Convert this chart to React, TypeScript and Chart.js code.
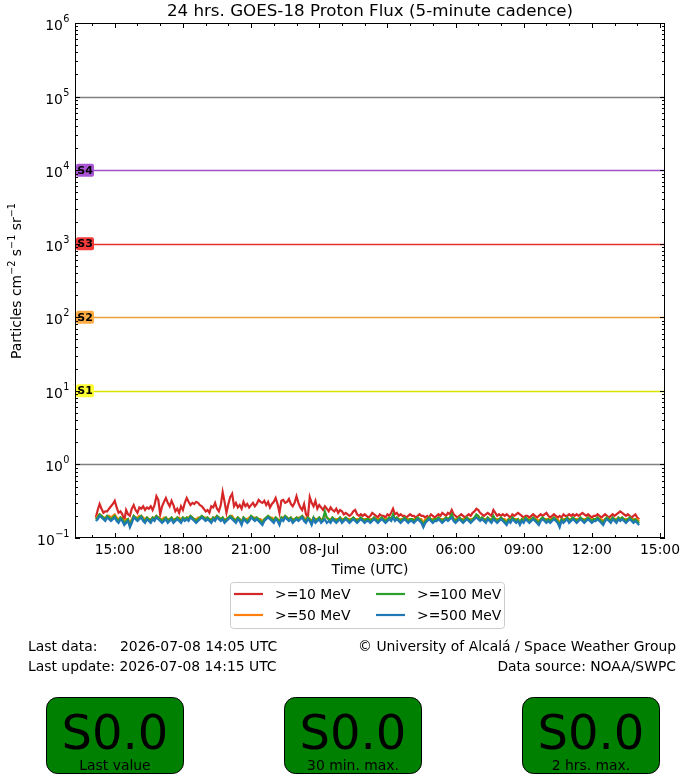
import { useEffect, useRef } from "react";
import { Chart, registerables, Plugin } from "chart.js";

Chart.register(...registerables);

const FONT = "'DejaVu Sans', sans-serif";

// time axis in hours counted from 07-Jul 00:00 UTC
const START_HOUR = 14 + 10 / 60; // first sample 14:10
const STEP_HOURS = 5 / 60; // 5-minute cadence
const X_MIN = 13.25;
const X_MAX = 39.22;

const XTICK_HOURS = [15, 18, 21, 24, 27, 30, 33, 36, 39];
const XTICK_LABELS = ["15:00", "18:00", "21:00", "08-Jul", "03:00", "06:00", "09:00", "12:00", "15:00"];
const YTICK_EXPONENTS = [-1, 0, 1, 2, 3, 4, 5, 6];

const THRESHOLD_VALUES = [1e5, 1e4, 1e3, 1e2, 1e1, 1e0];
const THRESHOLD_COLORS = ["#808080", "#a050c8", "#e63030", "#eca03a", "#d6e400", "#808080"];
const THRESHOLD_TAGS = ["", "S4", "S3", "S2", "S1", ""];
const TAG_COLORS = ["", "#a855d6", "#f23a3a", "#ffad42", "#ffff33", ""];

const SERIES_LABELS = [">=10 MeV", ">=50 MeV", ">=100 MeV", ">=500 MeV"];
const SERIES_COLORS = ["#d62728", "#ff7f0e", "#2ca02c", "#1f77b4"];

// >=10 MeV
const P10 = [
  0.19, 0.24, 0.29, 0.25, 0.22, 0.23, 0.23, 0.25, 0.27, 0.29, 0.32, 0.26,
  0.22, 0.23, 0.21, 0.17, 0.24, 0.21, 0.20, 0.25, 0.28, 0.24, 0.22, 0.26,
  0.25, 0.27, 0.24, 0.26, 0.25, 0.27, 0.24, 0.28, 0.37, 0.33, 0.21, 0.27,
  0.31, 0.35, 0.30, 0.27, 0.32, 0.28, 0.23, 0.25, 0.22, 0.27, 0.24, 0.30,
  0.35, 0.31, 0.28, 0.30, 0.29, 0.31, 0.30, 0.28, 0.27, 0.25, 0.23, 0.24,
  0.22, 0.27, 0.26, 0.30, 0.25, 0.23, 0.28, 0.42, 0.31, 0.22, 0.29, 0.36,
  0.40, 0.27, 0.30, 0.26, 0.28, 0.25, 0.31, 0.27, 0.29, 0.26, 0.28, 0.30,
  0.27, 0.29, 0.33, 0.31, 0.30, 0.32, 0.28, 0.31, 0.26, 0.29, 0.31, 0.35,
  0.29, 0.22, 0.32, 0.33, 0.30, 0.31, 0.34, 0.29, 0.27, 0.30, 0.37, 0.30,
  0.26, 0.24, 0.29, 0.21, 0.19, 0.36, 0.30, 0.27, 0.32, 0.25, 0.28, 0.26,
  0.24, 0.27, 0.25, 0.23, 0.26, 0.24, 0.23, 0.25, 0.22, 0.24, 0.23, 0.21,
  0.22, 0.21, 0.20, 0.21, 0.23, 0.24, 0.21, 0.20, 0.21, 0.20, 0.21, 0.20,
  0.19, 0.20, 0.22, 0.21, 0.20, 0.19, 0.21, 0.20, 0.20, 0.19, 0.21, 0.20,
  0.22, 0.25, 0.21, 0.22, 0.20, 0.21, 0.20, 0.20, 0.19, 0.20, 0.21, 0.20,
  0.20, 0.19, 0.20, 0.21, 0.20, 0.20, 0.19, 0.20, 0.19, 0.21, 0.20, 0.19,
  0.20, 0.21, 0.20, 0.22, 0.21, 0.20, 0.22, 0.21, 0.24, 0.21, 0.20, 0.19,
  0.20, 0.21, 0.20, 0.19, 0.20, 0.21, 0.20, 0.22, 0.23, 0.25, 0.24, 0.22,
  0.21, 0.20, 0.21, 0.22, 0.21, 0.20, 0.24, 0.22, 0.20, 0.21, 0.20, 0.21,
  0.20, 0.21, 0.20, 0.19, 0.21, 0.20, 0.21, 0.22, 0.21, 0.20, 0.19, 0.20,
  0.20, 0.19, 0.20, 0.21, 0.20, 0.19, 0.20, 0.21, 0.20, 0.21, 0.22, 0.20,
  0.19, 0.20, 0.21, 0.20, 0.19, 0.20, 0.19, 0.21, 0.20, 0.20, 0.21, 0.20,
  0.21, 0.20, 0.21, 0.20, 0.21, 0.22, 0.21, 0.20, 0.21, 0.20, 0.19, 0.20,
  0.20, 0.21, 0.20, 0.19, 0.20, 0.21, 0.20, 0.19, 0.20, 0.21, 0.20, 0.21,
  0.22, 0.23, 0.22, 0.21, 0.20, 0.21, 0.20, 0.19, 0.20, 0.21, 0.19, 0.18,
];

// >=50 MeV
const P50 = [
  0.18, 0.20, 0.21, 0.20, 0.19, 0.19, 0.20, 0.20, 0.19, 0.20, 0.21, 0.19,
  0.18, 0.19, 0.18, 0.17, 0.18, 0.18, 0.16, 0.18, 0.20, 0.19, 0.19, 0.20,
  0.20, 0.19, 0.18, 0.19, 0.18, 0.18, 0.19, 0.19, 0.20, 0.19, 0.18, 0.18,
  0.19, 0.19, 0.18, 0.18, 0.19, 0.18, 0.18, 0.19, 0.19, 0.18, 0.19, 0.18,
  0.19, 0.19, 0.20, 0.19, 0.18, 0.18, 0.19, 0.19, 0.20, 0.19, 0.19, 0.19,
  0.18, 0.18, 0.19, 0.19, 0.20, 0.19, 0.18, 0.19, 0.18, 0.18, 0.19, 0.20,
  0.20, 0.18, 0.18, 0.19, 0.18, 0.17, 0.19, 0.18, 0.18, 0.19, 0.20, 0.19,
  0.19, 0.19, 0.18, 0.18, 0.17, 0.18, 0.19, 0.20, 0.19, 0.19, 0.18, 0.19,
  0.18, 0.17, 0.19, 0.19, 0.20, 0.19, 0.18, 0.19, 0.18, 0.18, 0.19, 0.19,
  0.19, 0.20, 0.19, 0.18, 0.19, 0.18, 0.17, 0.19, 0.18, 0.18, 0.19, 0.18,
  0.18, 0.21, 0.19, 0.18, 0.18, 0.19, 0.18, 0.18, 0.18, 0.19, 0.18, 0.18,
  0.19, 0.18, 0.18, 0.18, 0.19, 0.18, 0.18, 0.18, 0.19, 0.18, 0.18, 0.18,
  0.18, 0.18, 0.18, 0.19, 0.18, 0.18, 0.18, 0.19, 0.18, 0.18, 0.18, 0.19,
  0.18, 0.20, 0.18, 0.19, 0.18, 0.18, 0.18, 0.19, 0.18, 0.18, 0.18, 0.18,
  0.18, 0.18, 0.19, 0.18, 0.18, 0.16, 0.18, 0.18, 0.19, 0.18, 0.18, 0.18,
  0.18, 0.19, 0.18, 0.18, 0.18, 0.19, 0.18, 0.19, 0.20, 0.18, 0.18, 0.18,
  0.19, 0.18, 0.18, 0.18, 0.19, 0.18, 0.18, 0.18, 0.19, 0.20, 0.20, 0.18,
  0.19, 0.18, 0.18, 0.19, 0.18, 0.18, 0.19, 0.18, 0.18, 0.18, 0.19, 0.18,
  0.18, 0.17, 0.18, 0.18, 0.19, 0.18, 0.18, 0.18, 0.17, 0.18, 0.18, 0.19,
  0.18, 0.18, 0.18, 0.19, 0.18, 0.18, 0.17, 0.18, 0.19, 0.18, 0.18, 0.18,
  0.18, 0.18, 0.19, 0.18, 0.18, 0.16, 0.18, 0.18, 0.18, 0.19, 0.18, 0.18,
  0.19, 0.18, 0.18, 0.18, 0.19, 0.18, 0.18, 0.18, 0.19, 0.18, 0.18, 0.18,
  0.18, 0.19, 0.18, 0.18, 0.17, 0.18, 0.19, 0.18, 0.18, 0.19, 0.18, 0.18,
  0.19, 0.18, 0.19, 0.18, 0.18, 0.18, 0.19, 0.18, 0.18, 0.18, 0.18, 0.17,
];

// >=100 MeV
const P100 = [
  0.18, 0.19, 0.21, 0.20, 0.19, 0.18, 0.20, 0.19, 0.18, 0.19, 0.20, 0.18,
  0.17, 0.19, 0.18, 0.16, 0.17, 0.18, 0.15, 0.17, 0.20, 0.19, 0.18, 0.19,
  0.20, 0.18, 0.17, 0.19, 0.18, 0.17, 0.19, 0.18, 0.20, 0.19, 0.18, 0.17,
  0.18, 0.19, 0.17, 0.18, 0.19, 0.17, 0.18, 0.19, 0.18, 0.17, 0.19, 0.18,
  0.19, 0.18, 0.20, 0.19, 0.18, 0.17, 0.18, 0.19, 0.20, 0.19, 0.18, 0.19,
  0.18, 0.17, 0.19, 0.18, 0.20, 0.19, 0.18, 0.19, 0.17, 0.18, 0.19, 0.20,
  0.19, 0.18, 0.17, 0.19, 0.18, 0.16, 0.19, 0.18, 0.17, 0.18, 0.20, 0.19,
  0.18, 0.19, 0.18, 0.17, 0.16, 0.18, 0.19, 0.20, 0.19, 0.18, 0.17, 0.19,
  0.18, 0.16, 0.19, 0.18, 0.20, 0.19, 0.18, 0.19, 0.17, 0.18, 0.19, 0.18,
  0.19, 0.20, 0.18, 0.17, 0.19, 0.18, 0.16, 0.19, 0.17, 0.18, 0.19, 0.17,
  0.18, 0.23, 0.19, 0.18, 0.17, 0.19, 0.18, 0.17, 0.18, 0.19, 0.17, 0.18,
  0.19, 0.18, 0.17, 0.18, 0.19, 0.18, 0.17, 0.18, 0.19, 0.18, 0.17, 0.18,
  0.18, 0.17, 0.18, 0.19, 0.18, 0.17, 0.18, 0.19, 0.18, 0.17, 0.18, 0.19,
  0.18, 0.21, 0.18, 0.19, 0.18, 0.17, 0.18, 0.19, 0.18, 0.17, 0.18, 0.18,
  0.17, 0.18, 0.19, 0.18, 0.17, 0.15, 0.17, 0.18, 0.19, 0.18, 0.17, 0.18,
  0.18, 0.19, 0.18, 0.17, 0.18, 0.19, 0.18, 0.19, 0.21, 0.18, 0.17, 0.18,
  0.19, 0.18, 0.17, 0.18, 0.19, 0.18, 0.17, 0.18, 0.19, 0.21, 0.20, 0.18,
  0.19, 0.18, 0.17, 0.19, 0.18, 0.17, 0.20, 0.18, 0.17, 0.18, 0.19, 0.18,
  0.17, 0.16, 0.18, 0.17, 0.19, 0.18, 0.17, 0.18, 0.16, 0.18, 0.17, 0.19,
  0.18, 0.17, 0.18, 0.19, 0.18, 0.17, 0.16, 0.18, 0.19, 0.18, 0.17, 0.18,
  0.17, 0.18, 0.19, 0.18, 0.17, 0.15, 0.18, 0.17, 0.18, 0.19, 0.17, 0.18,
  0.19, 0.18, 0.17, 0.18, 0.19, 0.18, 0.17, 0.18, 0.19, 0.18, 0.17, 0.18,
  0.18, 0.19, 0.18, 0.17, 0.16, 0.18, 0.19, 0.18, 0.17, 0.19, 0.18, 0.17,
  0.19, 0.18, 0.19, 0.18, 0.17, 0.18, 0.19, 0.18, 0.17, 0.18, 0.17, 0.16,
];

// >=500 MeV
const P500 = [
  0.17, 0.18, 0.20, 0.19, 0.18, 0.17, 0.19, 0.18, 0.17, 0.18, 0.19, 0.17,
  0.16, 0.18, 0.17, 0.15, 0.16, 0.17, 0.14, 0.16, 0.19, 0.18, 0.17, 0.18,
  0.19, 0.17, 0.16, 0.18, 0.17, 0.16, 0.18, 0.17, 0.19, 0.18, 0.17, 0.16,
  0.17, 0.18, 0.16, 0.17, 0.18, 0.16, 0.17, 0.18, 0.17, 0.16, 0.18, 0.17,
  0.18, 0.17, 0.19, 0.18, 0.17, 0.16, 0.17, 0.18, 0.19, 0.18, 0.17, 0.18,
  0.17, 0.16, 0.18, 0.17, 0.19, 0.18, 0.17, 0.18, 0.16, 0.17, 0.18, 0.19,
  0.18, 0.17, 0.16, 0.18, 0.17, 0.15, 0.18, 0.17, 0.16, 0.17, 0.19, 0.18,
  0.17, 0.18, 0.17, 0.16, 0.15, 0.17, 0.18, 0.19, 0.18, 0.17, 0.16, 0.18,
  0.17, 0.15, 0.18, 0.17, 0.19, 0.18, 0.17, 0.18, 0.16, 0.17, 0.18, 0.17,
  0.18, 0.19, 0.17, 0.16, 0.18, 0.17, 0.15, 0.18, 0.16, 0.17, 0.18, 0.16,
  0.17, 0.18, 0.16, 0.17, 0.16, 0.18, 0.17, 0.16, 0.17, 0.18, 0.16, 0.17,
  0.18, 0.17, 0.16, 0.17, 0.18, 0.17, 0.16, 0.17, 0.18, 0.17, 0.16, 0.17,
  0.17, 0.16, 0.17, 0.18, 0.17, 0.16, 0.17, 0.18, 0.17, 0.16, 0.17, 0.18,
  0.17, 0.19, 0.17, 0.18, 0.17, 0.16, 0.17, 0.18, 0.17, 0.16, 0.17, 0.17,
  0.16, 0.17, 0.18, 0.17, 0.16, 0.14, 0.16, 0.17, 0.18, 0.17, 0.16, 0.17,
  0.17, 0.18, 0.17, 0.16, 0.17, 0.18, 0.17, 0.18, 0.19, 0.17, 0.16, 0.17,
  0.18, 0.17, 0.16, 0.17, 0.18, 0.17, 0.16, 0.17, 0.18, 0.19, 0.18, 0.17,
  0.18, 0.17, 0.16, 0.18, 0.17, 0.16, 0.18, 0.17, 0.16, 0.17, 0.18, 0.17,
  0.16, 0.15, 0.17, 0.16, 0.18, 0.17, 0.16, 0.17, 0.15, 0.17, 0.16, 0.18,
  0.17, 0.16, 0.17, 0.18, 0.17, 0.16, 0.15, 0.17, 0.18, 0.17, 0.16, 0.17,
  0.16, 0.17, 0.18, 0.17, 0.16, 0.14, 0.17, 0.16, 0.17, 0.18, 0.16, 0.17,
  0.18, 0.17, 0.16, 0.17, 0.18, 0.17, 0.16, 0.17, 0.18, 0.17, 0.16, 0.17,
  0.17, 0.18, 0.17, 0.16, 0.15, 0.17, 0.18, 0.17, 0.16, 0.18, 0.17, 0.16,
  0.18, 0.17, 0.18, 0.17, 0.16, 0.17, 0.18, 0.17, 0.16, 0.17, 0.16, 0.15,
];

const STATUS_VALUES = ["S0.0", "S0.0", "S0.0"];
const STATUS_CAPTIONS = ["Last value", "30 min. max.", "2 hrs. max."];

const thresholdPlugin: Plugin<"line"> = {
  id: "thresholds",
  beforeDatasetsDraw(chart) {
    const { ctx, chartArea: a, scales } = chart;
    ctx.save();
    THRESHOLD_VALUES.forEach((v, i) => {
      const y = Math.round(scales.y.getPixelForValue(v)) + 0.5;
      ctx.strokeStyle = THRESHOLD_COLORS[i];
      ctx.lineWidth = 1.4;
      ctx.beginPath();
      ctx.moveTo(a.left, y);
      ctx.lineTo(a.right, y);
      ctx.stroke();
    });
    ctx.restore();
  },
};

function drawPow(ctx: CanvasRenderingContext2D, exp: number, xRight: number, y: number) {
  const base = "10";
  const sup = exp < 0 ? "\u2212" + Math.abs(exp) : String(exp);
  ctx.font = `13.9px ${FONT}`;
  const wb = ctx.measureText(base).width;
  ctx.font = `9.7px ${FONT}`;
  const ws = ctx.measureText(sup).width;
  const x0 = xRight - wb - ws;
  ctx.textAlign = "left";
  ctx.textBaseline = "alphabetic";
  ctx.font = `13.9px ${FONT}`;
  ctx.fillText(base, x0, y + 7);
  ctx.font = `9.7px ${FONT}`;
  ctx.fillText(sup, x0 + wb + 0.5, y - 1);
}

const decorPlugin: Plugin<"line"> = {
  id: "decor",
  afterDraw(chart) {
    const { ctx, chartArea: a, scales } = chart;
    const xs = scales.x;
    const ys = scales.y;
    ctx.save();

    // S level tags
    THRESHOLD_VALUES.forEach((v, i) => {
      if (!THRESHOLD_TAGS[i]) return;
      const y = ys.getPixelForValue(v);
      ctx.fillStyle = TAG_COLORS[i];
      ctx.beginPath();
      ctx.roundRect(76, y - 6.5, 18, 13, 2);
      ctx.fill();
      ctx.fillStyle = "#000";
      ctx.font = `bold 11px ${FONT}`;
      ctx.textAlign = "center";
      ctx.textBaseline = "middle";
      ctx.fillText(THRESHOLD_TAGS[i], 85, y + 0.5);
    });

    // frame
    ctx.strokeStyle = "#000";
    ctx.lineWidth = 1;
    ctx.strokeRect(a.left + 0.5, a.top + 0.5, a.right - a.left - 1, a.bottom - a.top - 1);

    // x ticks (inward, top and bottom)
    ctx.beginPath();
    for (let h = Math.ceil(X_MIN); h <= Math.floor(X_MAX); h++) {
      const x = Math.round(xs.getPixelForValue(h)) + 0.5;
      const len = h % 3 === 0 ? 5 : 3;
      ctx.moveTo(x, a.bottom);
      ctx.lineTo(x, a.bottom - len);
      ctx.moveTo(x, a.top);
      ctx.lineTo(x, a.top + len);
    }
    // y ticks (inward, left and right)
    YTICK_EXPONENTS.forEach((e) => {
      const y = Math.round(ys.getPixelForValue(Math.pow(10, e))) + 0.5;
      ctx.moveTo(a.left, y);
      ctx.lineTo(a.left + 5, y);
      ctx.moveTo(a.right, y);
      ctx.lineTo(a.right - 5, y);
      if (e < 6) {
        for (let m = 2; m <= 9; m++) {
          const ym = Math.round(ys.getPixelForValue(m * Math.pow(10, e))) + 0.5;
          ctx.moveTo(a.left, ym);
          ctx.lineTo(a.left + 3, ym);
          ctx.moveTo(a.right, ym);
          ctx.lineTo(a.right - 3, ym);
        }
      }
    });
    ctx.stroke();

    // tick labels
    ctx.fillStyle = "#000";
    ctx.font = `13.9px ${FONT}`;
    ctx.textAlign = "center";
    ctx.textBaseline = "alphabetic";
    XTICK_HOURS.forEach((h, i) => {
      ctx.fillText(XTICK_LABELS[i], xs.getPixelForValue(h), a.bottom + 16);
    });
    YTICK_EXPONENTS.forEach((e) => {
      drawPow(ctx, e, a.left - 6, ys.getPixelForValue(Math.pow(10, e)));
    });

    // title and axis titles
    ctx.textAlign = "center";
    ctx.font = `16.7px ${FONT}`;
    ctx.fillText("24 hrs. GOES-18 Proton Flux (5-minute cadence)", (a.left + a.right) / 2, 16);
    ctx.font = `13.9px ${FONT}`;
    ctx.fillText("Time (UTC)", (a.left + a.right) / 2, 574);

    // y title with superscripts, rotated
    const parts: [string, boolean][] = [
      ["Particles cm", false], ["\u22122", true], [" s", false], ["\u22121", true], [" sr", false], ["\u22121", true],
    ];
    const widths = parts.map(([t, sup]) => {
      ctx.font = `${sup ? 9.7 : 13.9}px ${FONT}`;
      return ctx.measureText(t).width;
    });
    const total = widths.reduce((s, w) => s + w, 0);
    ctx.save();
    ctx.translate(21, 281);
    ctx.rotate(-Math.PI / 2);
    ctx.textAlign = "left";
    let px = -total / 2;
    parts.forEach(([t, sup], i) => {
      ctx.font = `${sup ? 9.7 : 13.9}px ${FONT}`;
      ctx.fillText(t, px, sup ? -6 : 0);
      px += widths[i];
    });
    ctx.restore();

    // legend
    ctx.fillStyle = "rgba(255,255,255,0.8)";
    ctx.strokeStyle = "#cccccc";
    ctx.lineWidth = 1;
    ctx.beginPath();
    ctx.roundRect(230.5, 582.5, 274, 46, 3);
    ctx.fill();
    ctx.stroke();
    const legendPos = [[234, 594], [234, 615], [376, 594], [376, 615]];
    chart.data.datasets.forEach((ds, i) => {
      const [lx, ly] = legendPos[i];
      ctx.strokeStyle = ds.borderColor as string;
      ctx.lineWidth = 2.2;
      ctx.beginPath();
      ctx.moveTo(lx, ly);
      ctx.lineTo(lx + 29, ly);
      ctx.stroke();
      ctx.fillStyle = "#000";
      ctx.font = `13.9px ${FONT}`;
      ctx.textAlign = "left";
      ctx.textBaseline = "middle";
      ctx.fillText(ds.label as string, lx + 41, ly + 1);
    });

    // footer info
    ctx.textBaseline = "alphabetic";
    ctx.font = `13.9px ${FONT}`;
    ctx.textAlign = "left";
    ctx.fillText("Last data:", 28, 651);
    ctx.fillText("2026-07-08 14:05 UTC", 120, 651);
    ctx.fillText("Last update: 2026-07-08 14:15 UTC", 28, 671);
    ctx.textAlign = "right";
    ctx.fillText("\u00a9 University of Alcal\u00e1 / Space Weather Group", 676, 651);
    ctx.fillText("Data source: NOAA/SWPC", 676, 671);

    // status boxes
    STATUS_VALUES.forEach((val, i) => {
      const bx = 46 + i * 238;
      ctx.fillStyle = "#008000";
      ctx.strokeStyle = "#000";
      ctx.lineWidth = 1;
      ctx.beginPath();
      ctx.roundRect(bx + 0.5, 697.5, 137, 76, 11);
      ctx.fill();
      ctx.stroke();
      ctx.fillStyle = "#000";
      ctx.textAlign = "center";
      ctx.font = `48px ${FONT}`;
      ctx.fillText(val, bx + 69, 749);
      ctx.font = `13.9px ${FONT}`;
      ctx.fillText(STATUS_CAPTIONS[i], bx + 69, 770);
    });

    ctx.restore();
  },
};

export default function App() {
  const canvasRef = useRef<HTMLCanvasElement>(null);

  useEffect(() => {
    const canvas = canvasRef.current;
    if (!canvas) return;
    const series = [P10, P50, P100, P500];
    const chart = new Chart(canvas, {
      type: "line",
      data: {
        datasets: series.map((vals, k) => ({
          label: SERIES_LABELS[k],
          data: vals.map((v, i) => ({ x: START_HOUR + i * STEP_HOURS, y: v })),
          borderColor: SERIES_COLORS[k],
          borderWidth: 2.2,
          pointRadius: 0,
          tension: 0,
          order: 4 - k,
        })),
      },
      options: {
        animation: false,
        responsive: true,
        maintainAspectRatio: false,
        layout: { padding: { left: 75, top: 23, right: 35, bottom: 242 } },
        scales: {
          x: { type: "linear", min: X_MIN, max: X_MAX, display: false },
          y: { type: "logarithmic", min: 0.1, max: 1e6, display: false },
        },
        plugins: { legend: { display: false }, tooltip: { enabled: false } },
      },
      plugins: [thresholdPlugin, decorPlugin],
    });
    return () => chart.destroy();
  }, []);

  return (
    <div style={{ position: "absolute", left: 0, top: 0, width: 700, height: 780, background: "#fff" }}>
      <canvas ref={canvasRef} />
    </div>
  );
}
